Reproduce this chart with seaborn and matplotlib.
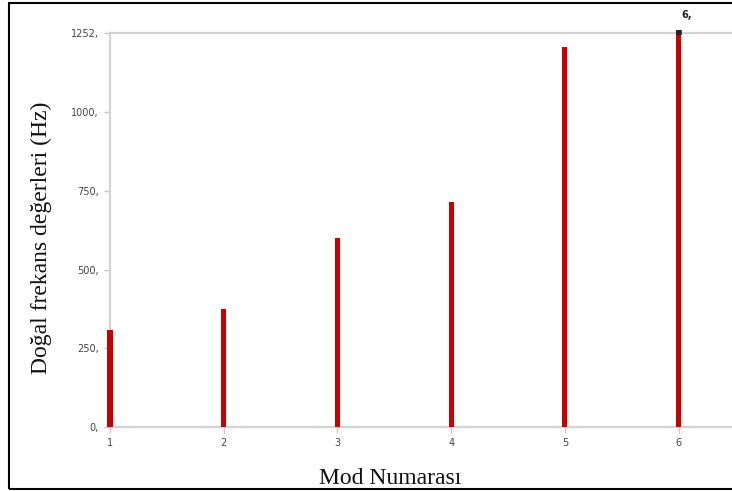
import seaborn as sns
import matplotlib.pyplot as plt
from matplotlib.patches import Rectangle
import pandas as pd

# Mode numbers and natural frequencies (Hz)
modes = [1, 2, 3, 4, 5, 6]
freqs = [308, 375, 600, 715, 1207, 1262]
y_ticks = [0, 250, 500, 750, 1000, 1252]
y_tick_labels = ['0,', '250,', '500,', '750,', '1000,', '1252,']

df = pd.DataFrame({'Mod': modes, 'Frekans': freqs})

sns.set_style('white')
plt.rcParams['font.family'] = ['DejaVu Sans']

fig = plt.figure(figsize=(7.32, 4.91), dpi=100)
ax = fig.add_axes([110 / 732, 1 - 427 / 491, 1 - 110 / 732, (427 - 33) / 491])

sns.barplot(data=df, x='Mod', y='Frekans', native_scale=True, width=0.045,
            color='#c80000', saturation=1, linewidth=0, ax=ax)
for p in ax.patches:
    p.set_clip_on(False)
    p.set_zorder(3)

# dark cap and label on the last (selected) mode
ax.vlines(modes[-1], y_ticks[-1] - 5, freqs[-1], color='#222222',
          linewidth=4, clip_on=False, zorder=4)
ax.text(modes[-1] + 0.07, freqs[-1] + 30, f'{modes[-1]},', fontsize=7,
        fontweight='bold', ha='center', va='bottom', color='#222222')

ax.set_xlim(1, 6.47)
ax.set_ylim(0, 1252)
ax.set_xticks(modes)
ax.set_xticklabels([str(m) for m in modes])
ax.set_yticks(y_ticks)
ax.set_yticklabels(y_tick_labels)

for side in ['left', 'bottom', 'top']:
    ax.spines[side].set_color('#d4d4d4')
    ax.spines[side].set_linewidth(1.6)
    ax.spines[side].set_zorder(1)
ax.spines['right'].set_visible(False)

ax.tick_params(axis='both', which='both', length=4, width=1, color='#c8c8c8',
               labelsize=7, labelcolor='#444444', pad=4, direction='out')
ax.tick_params(left=True, bottom=True)

serif = ['Liberation Serif', 'DejaVu Serif']
ax.set_xlabel('Mod Numarası', fontsize=17, family=serif, color='#111111')
ax.xaxis.set_label_coords((390 - 110) / (732 - 110), -0.105)
ax.set_ylabel('Doğal frekans değerleri (Hz)', fontsize=17, family=serif,
              color='#111111')
ax.yaxis.set_label_coords(-0.094, 0.48)

# black frame around the picture
fig.patches.append(Rectangle((9 / 732, 2 / 491), 1.0, 1 - 5 / 491,
                             transform=fig.transFigure, fill=False,
                             edgecolor='black', linewidth=1.5))

fig.savefig('out.png', dpi=100)
plt.close(fig)
